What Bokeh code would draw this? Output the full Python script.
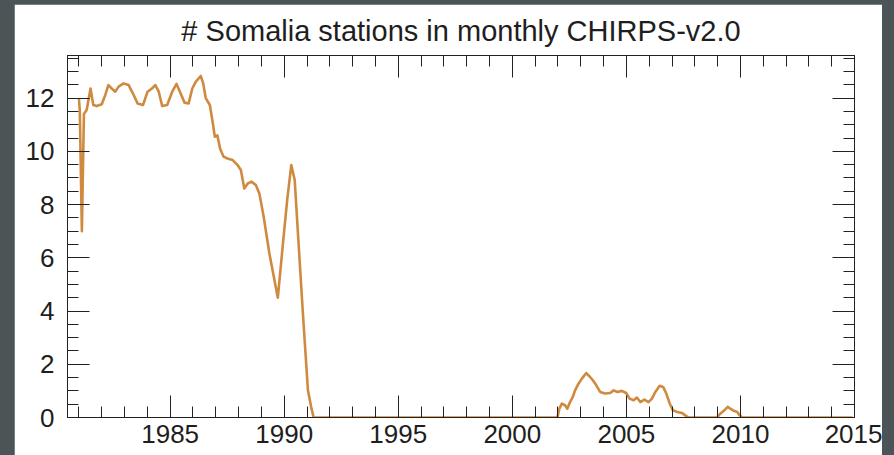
from bokeh.plotting import figure
from bokeh.models import Range1d, LinearAxis, SingleIntervalTicker
from bokeh.embed import file_html
from bokeh.resources import INLINE

# Station counts (decimal year, number of stations)
years = [1981.00, 1981.04, 1981.13, 1981.22, 1981.34, 1981.51, 1981.63, 1981.78, 1982.00,
         1982.15, 1982.29, 1982.44, 1982.59, 1982.74, 1982.96, 1983.18, 1983.37, 1983.57,
         1983.81, 1984.01, 1984.20, 1984.35, 1984.50, 1984.65, 1984.87, 1985.09, 1985.28,
         1985.46, 1985.63, 1985.81, 1985.97, 1986.12, 1986.34, 1986.45, 1986.56, 1986.74,
         1986.85, 1986.96, 1987.07, 1987.19, 1987.34, 1987.51, 1987.74, 1987.96, 1988.10,
         1988.25, 1988.40, 1988.57, 1988.76, 1988.91, 1989.10, 1989.35, 1989.72, 1989.93,
         1990.13, 1990.31, 1990.46, 1990.63, 1990.82, 1991.04, 1991.18, 1991.29,
         2001.98, 2002.06, 2002.17, 2002.31, 2002.41, 2002.53, 2002.65, 2002.75, 2002.90,
         2003.05, 2003.24, 2003.38, 2003.53, 2003.68, 2003.85, 2004.07, 2004.29, 2004.44,
         2004.61, 2004.80, 2004.99, 2005.14, 2005.32, 2005.46, 2005.61, 2005.79, 2005.97,
         2006.12, 2006.27, 2006.46, 2006.61, 2006.75, 2006.90, 2007.04, 2007.22, 2007.44,
         2007.58, 2007.73, 2008.98, 2009.09, 2009.27, 2009.44, 2009.56, 2009.71, 2009.86,
         2009.97, 2010.07, 2014.92]
stations = [12.0, 11.5, 7.0, 11.4, 11.55, 12.36, 11.74, 11.7, 11.77,
            12.1, 12.49, 12.36, 12.24, 12.43, 12.55, 12.49, 12.17, 11.8,
            11.74, 12.24, 12.36, 12.49, 12.24, 11.7, 11.74, 12.24, 12.53,
            12.17, 11.83, 11.8, 12.36, 12.61, 12.83, 12.55, 12.0, 11.74,
            11.17, 10.55, 10.6, 10.1, 9.8, 9.73, 9.67, 9.48, 9.3,
            8.6, 8.79, 8.86, 8.73, 8.42, 7.54, 6.16, 4.5, 6.4,
            8.17, 9.48, 8.92, 6.53, 3.9, 1.02, 0.4, 0.0,
            0.0, 0.33, 0.52, 0.46, 0.33, 0.58, 0.77, 1.02, 1.27,
            1.46, 1.67, 1.55, 1.40, 1.21, 0.96, 0.90, 0.92, 1.02,
            0.96, 1.0, 0.92, 0.71, 0.65, 0.75, 0.58, 0.67, 0.58,
            0.71, 0.96, 1.19, 1.15, 0.90, 0.52, 0.27, 0.21, 0.17,
            0.08, 0.0, 0.0, 0.12, 0.25, 0.40, 0.33, 0.25, 0.21,
            0.08, 0.0, 0.0]

title_text = "# Somalia stations in monthly CHIRPS-v2.0"
x_start, x_end = 1980.5, 2015.0
y_start, y_end = 0.0, 13.6

FONT = "Liberation Sans"
TEXT = "#1e1e1e"
LINE = "#cf8a40"
DARK = "#4b5457"

p = figure(width=868, height=451, output_backend="svg", toolbar_location=None,
           x_range=Range1d(x_start, x_end), y_range=Range1d(y_start, y_end),
           x_axis_type=None, y_axis_type=None,
           min_border_left=53, min_border_right=28, min_border_top=51, min_border_bottom=38,
           background_fill_color="white", border_fill_color="white",
           margin=(4, 0, 0, 14))
p.grid.visible = False
p.outline_line_color = "#222222"
p.outline_line_width = 1

p.title.text = title_text
p.title.align = "center"
p.title.text_font = FONT
p.title.text_font_size = "29px"
p.title.text_font_style = "normal"
p.title.text_color = TEXT
p.title.standoff = 17


def make_axis(ticker, labels):
    ax = LinearAxis(ticker=ticker)
    ax.axis_line_color = "#222222"
    ax.major_tick_line_color = "#222222"
    ax.minor_tick_line_color = "#222222"
    ax.major_tick_in = 22
    ax.major_tick_out = 0
    ax.minor_tick_in = 11
    ax.minor_tick_out = 0
    if labels:
        ax.major_label_text_font = FONT
        ax.major_label_text_font_size = "26px"
        ax.major_label_text_color = TEXT
    else:
        ax.major_label_text_color = None
        ax.major_label_text_font_size = "1px"
        ax.major_label_standoff = 0
    return ax


xb = make_axis(SingleIntervalTicker(interval=5, num_minor_ticks=5), True)
xb.major_label_standoff = 7
xt = make_axis(SingleIntervalTicker(interval=5, num_minor_ticks=5), False)
yl = make_axis(SingleIntervalTicker(interval=2, num_minor_ticks=4), True)
yl.major_label_standoff = 13
yr = make_axis(SingleIntervalTicker(interval=2, num_minor_ticks=4), False)

p.add_layout(xb, "below")
p.add_layout(xt, "above")
p.add_layout(yl, "left")
p.add_layout(yr, "right")

p.line(years, stations, line_color=LINE, line_width=2.6, line_join="round")

html = file_html(p, INLINE, title_text)
html = html.replace("<head>", "<head><style>html,body{background:%s;overflow:hidden;}</style>" % DARK, 1)
open("out.html", "w").write(html)
